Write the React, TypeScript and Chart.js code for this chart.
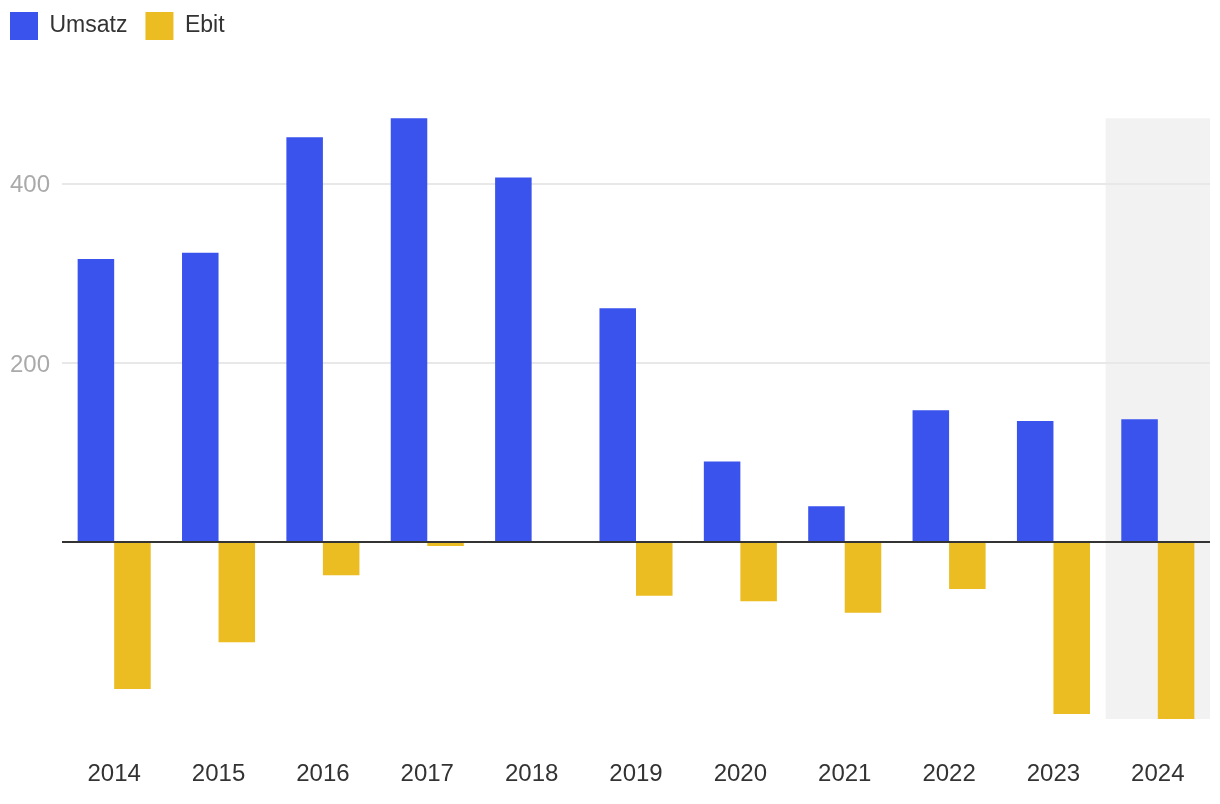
import React, { useEffect, useRef } from "react";
import { Chart, registerables } from "chart.js";

Chart.register(...registerables);

const categories = ["2014", "2015", "2016", "2017", "2018", "2019", "2020", "2021", "2022", "2023", "2024"];
const umsatz = [316, 323, 452, 473, 407, 261, 90, 40, 147, 135, 137];
const ebit = [-164, -112, -37, -4.5, 0, -60, -66, -79, -52.5, -192, -197.5];
const highlightedCategory = "2024";
const yTickStep = 200;
const yMin = -221;
const yMax = 515.8;

const FONT = "'Liberation Sans', Arial, Helvetica, sans-serif";

const legendHeightPlugin = {
  id: "legendHeight",
  beforeInit(chart: any) {
    const legend = chart.legend;
    if (!legend) return;
    const orig = legend.fit;
    legend.fit = function () {
      orig.call(this);
      this.height = 86;
    };
  },
};

const highlightPlugin = {
  id: "highlight",
  beforeDraw(chart: any) {
    const idx = categories.indexOf(highlightedCategory);
    if (idx < 0) return;
    const x = chart.scales.x;
    const y = chart.scales.y;
    const ca = chart.chartArea;
    const center = x.getPixelForValue(idx);
    const prev = idx > 0 ? x.getPixelForValue(idx - 1) : center - (ca.right - center) * 2;
    const half = (center - prev) / 2;
    const left = center - half;
    const right = Math.min(center + half, ca.right);
    const all = [...umsatz, ...ebit];
    const top = y.getPixelForValue(Math.max(...all));
    const bottom = y.getPixelForValue(Math.min(...all));
    const ctx = chart.ctx;
    ctx.save();
    ctx.fillStyle = "#f2f2f2";
    ctx.fillRect(left, top, right - left, bottom - top);
    ctx.restore();
  },
};

export default function App() {
  const ref = useRef<HTMLCanvasElement | null>(null);

  useEffect(() => {
    if (!ref.current) return;
    const chart = new Chart(ref.current, {
      type: "bar",
      data: {
        labels: categories,
        datasets: [
          {
            label: "Umsatz",
            data: umsatz,
            backgroundColor: "#3a53ec",
            borderWidth: 0,
            barPercentage: 1,
            categoryPercentage: 0.7,
          },
          {
            label: "Ebit",
            data: ebit,
            backgroundColor: "#ebbd22",
            borderWidth: 0,
            barPercentage: 1,
            categoryPercentage: 0.7,
          },
        ],
      },
      options: {
        animation: false,
        responsive: true,
        maintainAspectRatio: false,
        layout: { padding: { top: -6, left: -8, right: 10, bottom: 0 } },
        plugins: {
          legend: {
            position: "top",
            align: "start",
            labels: {
              boxWidth: 28,
              boxHeight: 28,
              padding: 18,
              color: "#333",
              font: { family: FONT, size: 23 },
            },
          },
          tooltip: { enabled: false },
        },
        scales: {
          x: {
            grid: { display: false, drawTicks: false },
            border: { display: false },
            ticks: {
              color: "#333",
              font: { family: FONT, size: 24 },
              padding: 20,
              maxRotation: 0,
            },
            afterFit(scale: any) {
              scale.height = 64;
            },
          },
          y: {
            min: yMin,
            max: yMax,
            border: { display: false },
            grid: {
              drawTicks: false,
              lineWidth: 2,
              color: (c: any) => {
                const v = c.tick ? c.tick.value : 1;
                if (v === 0) return "#333";
                if (v > 0) return "#e8e8e8";
                return "rgba(0,0,0,0)";
              },
            },
            ticks: {
              stepSize: yTickStep,
              includeBounds: false,
              color: "#aaa",
              padding: 12,
              labelOffset: 2,
              font: { family: FONT, size: 24 },
              callback: (v: any) => (Number(v) > 0 ? String(v) : ""),
            },
            afterFit(scale: any) {
              scale.width = 70;
            },
          },
        },
      },
      plugins: [legendHeightPlugin, highlightPlugin],
    });
    return () => chart.destroy();
  }, []);

  return (
    <div style={{ position: "fixed", left: 0, top: 0, width: 1220, height: 804, background: "#fff" }}>
      <canvas ref={ref} />
    </div>
  );
}
